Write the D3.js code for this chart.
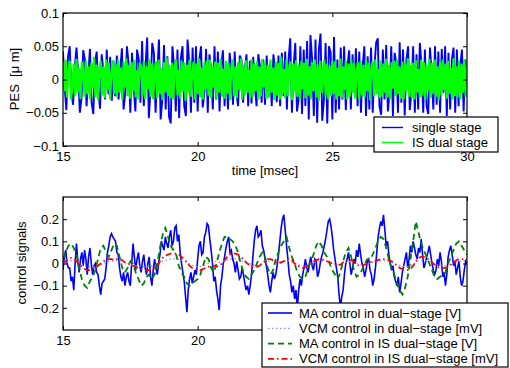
<!DOCTYPE html>
<html>
<head>
<meta charset="utf-8">
<script src="https://cdn.jsdelivr.net/npm/d3@7"></script>
<style>
  body { margin: 0; background: #fff; }
  svg { display: block; font-family: "Liberation Sans", Arial, Helvetica, sans-serif; }
  .tick text { font-size: 13px; fill: #000; }
  .tick line { stroke: #000; }
</style>
</head>
<body>
<div id="chart"></div>
<script>
// time axis (msec)
const timeStart = 15, timeEnd = 30;
const timeTicks = [15, 20, 25, 30];
const topTimeLabels = ["15", "20", "25", "30"];
const botTimeLabels = ["15", "20", "", ""]; // 25 and 30 sit under the legend

// upper plot: PES [um], sampled evenly from 15 to 30 msec
const pesTicks = [-0.1, -0.05, 0, 0.05, 0.1];
const pesTickLabels = ["\u22120.1", "\u22120.05", "0", "0.05", "0.1"];
const pesSingle = [
  0.042,-0.012,-0.046,0.035,0.05,-0.02,-0.038,0.018,0.048,0.01,-0.05,-0.028,0.044,0.03,-0.04,0.006,
  0.046,-0.035,-0.052,0.024,0.042,-0.015,-0.044,0.038,0.012,-0.03,0.045,-0.022,0.034,-0.032,0.028,-0.025,
  0.036,-0.03,0.015,0.047,-0.045,-0.02,0.05,0.022,-0.05,0.04,-0.012,-0.048,0.045,0.03,-0.035,0.058,
  -0.04,0.02,0.063,-0.058,-0.015,0.055,0.04,-0.05,0.01,0.06,-0.06,-0.03,0.052,-0.045,0.035,-0.056,
  -0.066,0.05,0.02,-0.048,0.045,-0.058,0.032,0.05,-0.04,-0.055,0.06,0.025,-0.05,0.048,-0.035,0.05,
  -0.048,0.03,0.05,-0.042,-0.02,0.046,-0.05,0.038,0.015,-0.045,0.05,-0.03,0.042,-0.048,0.02,0.044,
  -0.04,0.025,-0.045,0.04,0.01,-0.038,0.042,-0.02,-0.04,0.036,0.03,-0.035,0.015,0.038,-0.04,0.028,
  -0.036,0.034,-0.01,-0.04,0.038,0.02,-0.035,0.03,-0.038,0.036,-0.02,0.025,-0.04,0.038,0.012,-0.034,
  0.036,-0.04,0.04,-0.025,0.042,-0.045,0.03,0.062,-0.05,0.02,0.055,-0.048,-0.03,0.05,-0.052,0.045,
  -0.04,0.058,-0.06,0.067,0.03,-0.055,0.06,-0.065,0.045,0.069,-0.062,-0.03,0.055,-0.066,0.05,0.04,
  -0.06,0.064,-0.05,0.03,-0.045,0.048,-0.03,0.05,-0.046,0.02,0.044,-0.045,0.038,-0.02,0.047,-0.04,
  0.042,-0.05,0.02,0.05,-0.055,0.035,-0.045,0.048,-0.05,0.018,0.055,0.062,-0.04,-0.053,0.045,-0.03,
  0.052,-0.048,-0.02,0.05,-0.055,0.04,0.025,-0.05,0.056,-0.035,0.045,-0.054,0.03,0.05,-0.046,-0.02,
  0.05,-0.05,0.038,-0.045,0.055,0.02,-0.05,0.045,-0.04,-0.052,0.048,0.01,-0.045,0.05,-0.038,0.042,
  -0.05,0.046,-0.02,0.05,-0.055,0.04,-0.045,0.03,0.048,-0.05,0.045,-0.04,0.02,0.045,-0.048,0.03,
  -0.02
];
const pesIsDual = [
  0.026,-0.018,0.03,-0.027,0.012,0.028,-0.03,-0.01,0.024,-0.025,0.031,-0.02,0.018,-0.029,0.027,0.005,-0.026,0.029,-0.022,0.02,
  -0.03,0.025,-0.012,0.034,-0.027,0.022,-0.031,0.015,0.028,-0.024,0.02,-0.028,0.03,-0.016,0.025,-0.03,0.01,0.029,-0.022,0.024,
  -0.026,0.03,-0.02,0.018,-0.03,0.027,-0.012,0.032,-0.025,0.022,-0.029,0.026,-0.018,0.03,-0.027,0.014,-0.03,0.025,0.02,-0.024,
  0.028,-0.03,0.02,-0.015,0.031,-0.026,0.024,-0.03,0.012,0.027,-0.028,0.03,-0.022,0.018,-0.031,0.026,-0.02,0.033,-0.025,0.022,
  -0.028,0.025,-0.03,0.02,0.03,-0.024,0.015,-0.029,0.028,-0.018,0.026,-0.032,0.022,-0.02,0.03,-0.026,0.012,0.027,-0.03,0.024,
  -0.022,0.032,-0.027,0.018,-0.03,0.026,-0.015,0.029,-0.024,0.03,-0.028,0.02,-0.012,0.027,-0.03,0.025,-0.02,0.031,-0.026,0.016,
  -0.029,0.028,-0.022,0.025,-0.031,0.018,0.03,-0.025,0.02,-0.028,0.026,-0.016,0.032,-0.03,0.022,-0.024,0.029,-0.02,0.015,-0.028,
  0.03,-0.026,0.024,-0.018,0.028,-0.03,0.02,-0.025,0.031,-0.012,0.026,-0.029,0.022,-0.027,0.03,-0.02,0.018,-0.031,0.027,-0.024,
  0.025,-0.03,0.034,-0.022,0.016,-0.028,0.03,-0.025,0.02,0.027,-0.031,0.024,-0.018,0.029,-0.026,0.022,-0.03,0.028,-0.015,0.025,
  -0.028,0.031,-0.024,0.02,-0.03,0.026,-0.018,0.03,-0.027,0.023,-0.032,0.028,-0.02,0.015,0.03,-0.026,0.024,-0.03,0.021,-0.025,
  0.029,-0.022,0.027,-0.03,0.018,-0.025,0.032,-0.028,0.02,-0.016,0.028,-0.03,0.024,-0.026,0.03,-0.02,0.025,-0.029,0.012,0.026,
  -0.03,0.028,-0.024,0.022,-0.027,0.03,-0.018,0.025,-0.031,0.02,0.027,-0.025,0.03,-0.022,0.016,-0.028,0.029,-0.026,0.024,-0.02,
  0.031,-0.027,0.022,-0.03,0.026,-0.014,0.028,-0.025,0.03,-0.022,0.02,-0.029,0.027,-0.03,0.024,-0.018,0.032,-0.026,0.022,-0.028,
  0.025,-0.03,0.029,-0.02,0.016,-0.027,0.03,-0.024,0.026,-0.03,0.022,-0.018,0.031,-0.028,0.025,-0.022,0.03,-0.026,0.02,-0.031,
  0.027,-0.024,0.03,-0.016,0.024,-0.029,0.028,-0.022,0.018,-0.03,0.032,-0.025,0.02,-0.027,0.029,-0.03,0.024,-0.02,0.03,-0.026,
  0.022
];

// lower plot: control signals, sampled evenly from 15 to 30 msec
const ctrlTicks = [-0.2, -0.1, 0, 0.1, 0.2];
const ctrlTickLabels = ["\u22120.2", "\u22120.1", "0", "0.1", "0.2"];
const maDual = [
  -0.03,0.03,0.06,0.0,-0.02,-0.02,-0.08,-0.06,-0.12,0.0,0.09,0.01,-0.04,0.02,0.05,-0.01,0.06,0.02,-0.05,0.03,
  0.07,0.0,-0.05,-0.01,0.0,-0.04,-0.05,-0.1,-0.14,-0.09,-0.08,-0.07,-0.02,0.05,0.08,0.12,0.135,0.12,0.11,0.1,
  0.05,0.04,-0.02,-0.06,-0.08,-0.04,-0.1,-0.06,-0.04,-0.08,-0.1,0.0,0.09,0.03,-0.03,0.02,0.05,-0.01,-0.04,0.01,
  0.04,-0.02,-0.05,0.0,0.03,-0.06,-0.1,-0.03,0.02,-0.02,-0.05,0.0,0.04,0.1,0.08,0.06,0.12,0.09,0.07,0.12,
  0.15,0.08,0.1,0.16,0.17,0.1,0.13,0.05,0.0,-0.04,-0.08,-0.15,-0.22,-0.12,-0.07,-0.04,-0.09,-0.06,-0.03,-0.05,
  0.02,0.08,0.1,0.04,0.05,0.12,0.14,0.18,0.17,0.11,0.06,0.0,-0.08,-0.06,-0.12,-0.16,-0.21,-0.1,-0.06,0.0,
  0.03,0.07,0.1,0.12,0.05,0.06,0.02,0.0,-0.04,0.01,-0.03,-0.07,-0.06,-0.02,-0.05,-0.09,-0.12,-0.1,-0.14,-0.1,
  -0.05,0.03,0.1,0.15,0.17,0.12,0.13,0.15,0.08,0.06,0.02,-0.01,-0.05,-0.1,-0.13,-0.08,-0.04,-0.07,-0.05,-0.01,
  0.04,0.1,0.16,0.2,0.22,0.15,0.08,0.02,-0.05,-0.08,-0.13,-0.1,-0.16,-0.12,-0.2,-0.12,-0.07,-0.1,-0.05,-0.02,
  0.02,-0.02,-0.04,0.0,0.03,-0.01,-0.03,0.02,0.01,-0.06,-0.04,0.0,0.03,0.05,0.08,0.11,0.15,0.19,0.2,0.17,
  0.12,0.06,0.02,-0.02,-0.06,-0.14,-0.2,-0.15,-0.12,-0.05,0.0,0.02,0.05,0.0,-0.05,-0.02,0.02,0.0,0.06,0.03,
  0.09,0.04,0.0,-0.02,-0.06,-0.03,0.01,0.02,-0.03,-0.05,-0.1,-0.07,-0.02,0.05,0.12,0.16,0.19,0.17,0.22,0.15,
  0.08,0.1,0.04,0.0,-0.03,-0.01,-0.06,-0.08,-0.1,-0.06,-0.13,-0.09,-0.04,-0.01,0.02,0.05,-0.02,0.02,0.08,0.05,
  0.1,0.07,0.04,0.02,0.07,0.05,0.11,0.04,-0.02,0.0,0.03,0.05,0.08,0.04,0.0,-0.03,-0.05,-0.03,0.02,-0.01,
  0.05,0.01,-0.06,-0.04,-0.1,-0.05,0.03,0.06,0.08,0.04,-0.01,0.01,-0.05,-0.02,0.01,-0.06,-0.1,-0.08,-0.03,0.01,
  0.0
];
const vcmDual = [
  0.0,0.01,0.015,0.005,-0.01,-0.015,-0.015,-0.005,0.005,0.01,
  0.012,0.01,0.0,-0.008,-0.012,-0.015,-0.015,-0.01,0.005,0.015,
  0.02,0.022,0.015,0.005,-0.008,-0.015,-0.012,0.0,0.01,0.005,
  0.01,0.02,0.022,0.015,0.005,-0.005,-0.01,0.0,0.01,0.012,
  0.005,0.01,0.012,0.0,-0.008,-0.01,-0.002,0.008,0.012,0.01,
  0.0,-0.005,0.0,0.01,0.005,-0.005,-0.005,0.003,0.008,0.012,
  0.012,0.005,-0.005,-0.012,-0.015,-0.005,0.012,0.015,0.008,-0.002,
  -0.01,-0.01,-0.002,0.008,0.012,0.012
];
const maIsDual = [
  0.02,0.05,0.08,0.09,0.07,0.04,-0.02,-0.07,-0.1,-0.11,
  -0.08,-0.06,-0.03,0.02,0.07,0.08,0.05,0.03,0.06,0.09,
  0.08,0.03,-0.02,-0.04,-0.02,0.01,0.0,-0.04,-0.07,-0.1,
  -0.09,-0.06,-0.05,-0.07,-0.05,0.0,0.07,0.13,0.16,0.12,
  0.08,0.06,0.04,-0.01,-0.04,-0.06,-0.09,-0.1,-0.09,-0.08,
  -0.07,-0.05,-0.01,0.03,0.02,-0.02,-0.04,0.0,0.05,0.09,
  0.12,0.12,0.11,0.1,0.08,0.05,0.0,-0.04,-0.06,-0.07,
  -0.05,-0.03,0.0,0.03,0.05,0.03,-0.02,-0.05,-0.03,0.02,
  0.05,0.08,0.1,0.12,0.07,0.03,0.0,-0.04,-0.06,-0.07,
  -0.06,-0.02,0.01,0.04,0.08,0.1,0.08,0.05,0.03,0.0,
  -0.03,-0.05,-0.07,-0.04,0.01,0.05,0.07,0.03,-0.03,-0.06,
  -0.05,-0.03,0.0,0.02,0.02,0.04,0.07,0.1,0.12,0.11,
  0.07,0.02,-0.02,-0.05,-0.09,-0.12,-0.14,-0.11,-0.06,0.02,
  0.1,0.19,0.14,0.09,0.06,0.03,0.0,-0.03,-0.06,-0.07,
  -0.06,-0.05,-0.04,0.0,0.03,0.06,0.09,0.1,0.08,0.06,
  0.04
];
const vcmIsDual = [
  0.0,0.01,0.02,0.025,0.02,0.01,0.0,-0.015,-0.025,-0.03,
  -0.03,-0.025,-0.02,-0.01,0.0,0.01,0.015,0.02,0.02,0.015,
  0.02,0.02,0.015,0.005,0.0,-0.005,-0.01,-0.015,-0.02,-0.025,
  -0.03,-0.03,-0.03,-0.025,-0.02,-0.01,0.01,0.025,0.035,0.04,
  0.045,0.045,0.045,0.04,0.03,0.02,0.005,-0.01,-0.02,-0.025,
  -0.03,-0.03,-0.025,-0.02,-0.015,-0.01,-0.01,-0.015,-0.01,0.0,
  0.015,0.03,0.04,0.045,0.045,0.04,0.03,0.02,0.005,-0.005,
  -0.01,-0.015,-0.015,-0.01,0.0,0.01,0.02,0.02,0.015,0.005,
  0.0,0.005,0.01,0.02,0.02,0.015,0.0,-0.01,-0.015,-0.02,
  -0.015,-0.01,0.0,0.01,0.015,0.02,0.02,0.015,0.01,0.005,
  0.0,-0.005,-0.01,-0.005,0.005,0.015,0.02,0.015,0.005,-0.005,
  -0.01,-0.01,-0.005,0.0,0.005,0.01,0.01,0.015,0.02,0.02,
  0.02,0.015,0.01,0.0,-0.01,-0.02,-0.025,-0.03,-0.03,-0.025,
  -0.01,0.01,0.025,0.03,0.03,0.025,0.015,0.005,-0.005,-0.015,
  -0.02,-0.02,-0.02,-0.015,-0.005,0.005,0.015,0.02,0.02,0.02,
  0.02
];

const topLegend = ["single stage", "IS dual stage"];
const bottomLegend = [
  "MA control in dual\u2212stage [V]",
  "VCM control in dual\u2212stage [mV]",
  "MA control in IS dual\u2212stage [V]",
  "VCM control in IS dual\u2212stage [mV]"
];

const width = 510, height = 368;
const svg = d3.select("#chart").append("svg")
  .attr("width", width)
  .attr("height", height);

// spread an evenly sampled record over the time window
function toPoints(values) {
  const step = (timeEnd - timeStart) / (values.length - 1);
  return values.map((v, i) => [timeStart + i * step, v]);
}

function drawAxes(g, x, y, yTicks, yLabels, xLabels) {
  const [x0, x1] = x.range();
  const [y0, y1] = y.range();
  g.append("g")
    .attr("transform", `translate(0,${y0})`)
    .call(d3.axisBottom(x).tickValues(timeTicks).tickSizeInner(-4).tickSizeOuter(0).tickPadding(6)
      .tickFormat((d, i) => xLabels[i]));
  g.append("g")
    .attr("transform", `translate(0,${y1})`)
    .call(d3.axisTop(x).tickValues(timeTicks).tickSizeInner(-4).tickSizeOuter(0).tickFormat(""));
  g.append("g")
    .attr("transform", `translate(${x0},0)`)
    .call(d3.axisLeft(y).tickValues(yTicks).tickSizeInner(-4).tickSizeOuter(0).tickPadding(4)
      .tickFormat((d, i) => yLabels[i]));
  g.append("g")
    .attr("transform", `translate(${x1},0)`)
    .call(d3.axisRight(y).tickValues(yTicks).tickSizeInner(-4).tickSizeOuter(0).tickFormat(""));
  g.selectAll(".domain").remove();
  g.append("rect")
    .attr("x", x0).attr("y", y1)
    .attr("width", x1 - x0).attr("height", y0 - y1)
    .attr("fill", "none").attr("stroke", "#000").attr("stroke-width", 1.2);
}

// ---------- upper plot ----------
const x = d3.scaleLinear().domain([timeStart, timeEnd]).range([63, 467]);
const yTop = d3.scaleLinear().domain([-0.1, 0.1]).range([146, 13]);

svg.append("clipPath").attr("id", "clipTop")
  .append("rect").attr("x", 63).attr("y", 13).attr("width", 404).attr("height", 133);

const topPanel = svg.append("g");
const lineTop = d3.line().x(d => x(d[0])).y(d => yTop(d[1]));
const topPlot = topPanel.append("g").attr("clip-path", "url(#clipTop)");
topPlot.append("path")
  .attr("d", lineTop(toPoints(pesSingle)))
  .attr("fill", "none").attr("stroke", "#0000ff").attr("stroke-width", 1.9);
topPlot.append("path")
  .attr("d", lineTop(toPoints(pesIsDual)))
  .attr("fill", "none").attr("stroke", "#00ff00").attr("stroke-width", 2.2);

drawAxes(topPanel, x, yTop, pesTicks, pesTickLabels, topTimeLabels);

topPanel.append("text")
  .attr("x", 265).attr("y", 175)
  .attr("text-anchor", "middle").attr("font-size", 13)
  .text("time [msec]");
topPanel.append("text")
  .attr("transform", "translate(19,79) rotate(-90)")
  .attr("text-anchor", "middle").attr("font-size", 13)
  .attr("xml:space", "preserve").style("white-space", "pre")
  .text("PES  [\u03bc m]");

// upper legend
const topStyles = [
  { color: "#0000ff", dash: null },
  { color: "#00ff00", dash: null }
];
const legTop = svg.append("g").attr("transform", "translate(374,117)");
legTop.append("rect").attr("width", 124).attr("height", 35)
  .attr("fill", "#fff").attr("stroke", "#000").attr("stroke-width", 1.2);
topLegend.forEach((label, i) => {
  const cy = 10.5 + i * 15;
  legTop.append("line")
    .attr("x1", 8).attr("x2", 29).attr("y1", cy).attr("y2", cy)
    .attr("stroke", topStyles[i].color).attr("stroke-width", 1.4);
  legTop.append("text")
    .attr("x", 38).attr("y", cy + 4.5).attr("font-size", 13)
    .text(label);
});

// ---------- lower plot ----------
const yBot = d3.scaleLinear().domain([-0.3, 0.3]).range([330, 197]);

svg.append("clipPath").attr("id", "clipBot")
  .append("rect").attr("x", 63).attr("y", 197).attr("width", 404).attr("height", 133);

const botPanel = svg.append("g");
const lineBot = d3.line().x(d => x(d[0])).y(d => yBot(d[1]));
const botStyles = [
  { data: maDual, color: "#0000ff", dash: null, w: 1.6 },
  { data: vcmDual, color: "#8c8cff", dash: "1.5,2.5", w: 1.2 },
  { data: maIsDual, color: "#008000", dash: "6,4", w: 1.8 },
  { data: vcmIsDual, color: "#ff0000", dash: "6,3,1.5,3", w: 1.8 }
];
const botPlot = botPanel.append("g").attr("clip-path", "url(#clipBot)");
botStyles.forEach(s => {
  botPlot.append("path")
    .attr("d", lineBot(toPoints(s.data)))
    .attr("fill", "none").attr("stroke", s.color)
    .attr("stroke-width", s.w)
    .attr("stroke-dasharray", s.dash);
});

drawAxes(botPanel, x, yBot, ctrlTicks, ctrlTickLabels, botTimeLabels);

botPanel.append("text")
  .attr("transform", "translate(26,263) rotate(-90)")
  .attr("text-anchor", "middle").attr("font-size", 13)
  .text("control signals");

// lower legend
const legBot = svg.append("g").attr("transform", "translate(262,303)");
legBot.append("rect").attr("width", 246).attr("height", 64)
  .attr("fill", "#fff").attr("stroke", "#000").attr("stroke-width", 1.2);
bottomLegend.forEach((label, i) => {
  const cy = 10 + i * 15.3;
  legBot.append("line")
    .attr("x1", 6).attr("x2", 30).attr("y1", cy).attr("y2", cy)
    .attr("stroke", botStyles[i].color).attr("stroke-width", botStyles[i].w)
    .attr("stroke-dasharray", botStyles[i].dash);
  legBot.append("text")
    .attr("x", 37).attr("y", cy + 4.5).attr("font-size", 13)
    .text(label);
});
</script>
</body>
</html>
